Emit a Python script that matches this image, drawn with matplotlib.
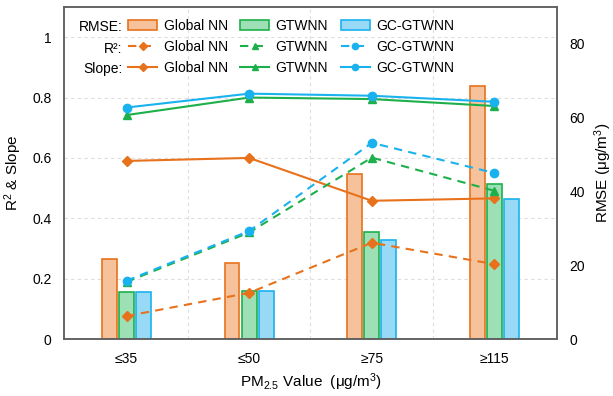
import numpy as np
import matplotlib.pyplot as plt
from matplotlib.ticker import FuncFormatter

plt.rcParams['font.family'] = ['Liberation Sans', 'DejaVu Sans']
plt.rcParams['mathtext.fontset'] = 'custom'
plt.rcParams['mathtext.rm'] = 'Liberation Sans'
plt.rcParams['mathtext.it'] = 'Liberation Sans:italic'

categories = ['≤35', '≤50', '≥75', '≥115']
models = ['Global NN', 'GTWNN', 'GC-GTWNN']

rmse_global = [21.6, 20.6, 44.8, 68.7]
rmse_gtwnn = [12.7, 13.0, 29.0, 41.9]
rmse_gc = [12.7, 13.0, 26.8, 38.0]

r2_global = [0.076, 0.153, 0.319, 0.248]
r2_gtwnn = [0.189, 0.353, 0.601, 0.491]
r2_gc = [0.193, 0.358, 0.650, 0.550]

slope_global = [0.590, 0.600, 0.458, 0.466]
slope_gtwnn = [0.742, 0.800, 0.795, 0.772]
slope_gc = [0.767, 0.813, 0.806, 0.786]

line_cols = ['#E8711C', '#1DB04A', '#1AB2EE']
fill_cols = ['#F5C29C', '#9EE0B5', '#98DAF5']
markers = ['D', '^', 'o']
msizes = [5, 5.5, 6]

x = np.arange(1, len(categories) + 1)

fig = plt.figure(figsize=(6.13, 3.96), dpi=100)
ax = fig.add_axes([0.1044, 0.1439, 0.8042, 0.8384])   # bars, RMSE on right
ax2 = ax.twinx()                                      # lines, R2 & slope on left

# bars
bar_h = []
for i, vals in enumerate([rmse_global, rmse_gtwnn, rmse_gc]):
    b = ax.bar(x + (i - 1) * 0.14, vals, width=0.122, color=fill_cols[i],
               edgecolor=line_cols[i], linewidth=1.2, zorder=2)
    bar_h.append(b)

ax.set_ylim(0, 90)
ax.set_xlim(0.49, 4.51)
ax.yaxis.tick_right()
ax.yaxis.set_label_position('right')
ax.set_yticks([0, 20, 40, 60, 80])
ax.set_ylabel('RMSE (μg/m$^3$)', fontsize=11, labelpad=5)

# grid behind bars, placed at the left-axis ticks
left_ticks = np.arange(0, 1.01, 0.2)
ax.set_yticks(left_ticks * 90 / 1.1, minor=True)
ax.set_xticks(x)
ax.set_xticklabels(categories)
ax.set_xticks(x[:-1] + 0.5, minor=True)
ax.grid(which='minor', color='#DDDDDD', linestyle=(0, (3, 3)), linewidth=0.8, zorder=0)
ax.set_axisbelow(True)
ax.set_xlabel('PM$_{2.5}$ Value  (μg/m$^3$)', fontsize=11, labelpad=4)

# lines
r2_h = []
slope_h = []
for i, (r2, sl) in enumerate(zip([r2_global, r2_gtwnn, r2_gc],
                                 [slope_global, slope_gtwnn, slope_gc])):
    h1, = ax2.plot(x, r2, color=line_cols[i], linestyle='--', dashes=(4, 3),
                   linewidth=1.5, marker=markers[i], markersize=msizes[i])
    h2, = ax2.plot(x, sl, color=line_cols[i], linestyle='-',
                   linewidth=1.5, marker=markers[i], markersize=msizes[i])
    r2_h.append(h1)
    slope_h.append(h2)

ax2.set_ylim(0, 1.1)
ax2.yaxis.tick_left()
ax2.yaxis.set_label_position('left')
ax2.set_yticks(left_ticks)
ax2.yaxis.set_major_formatter(FuncFormatter(lambda v, p: '%g' % round(v, 1)))
ax2.set_ylabel('R$^2$ & Slope', fontsize=11, labelpad=6)

for a in (ax, ax2):
    a.tick_params(which='both', length=0, labelsize=10, pad=9)
    for s in a.spines.values():
        s.set_color('#606060')
        s.set_linewidth(1.1)

handles = []
labels = []
for i in range(3):
    handles += [bar_h[i], r2_h[i], slope_h[i]]
    labels += [models[i]] * 3
leg = ax2.legend(handles, labels, ncol=3, loc='upper left', bbox_to_anchor=(0.13, 0.965),
                 frameon=False, fontsize=10, handlelength=2.1, handletextpad=0.45,
                 columnspacing=0.9, labelspacing=0.5, borderpad=0, borderaxespad=0,
                 markerscale=0.75)

for lab, yy in zip(['RMSE:', 'R²:', 'Slope:'], [0.94, 0.873, 0.813]):
    ax2.text(0.118, yy, lab, transform=ax2.transAxes, ha='right', va='center', fontsize=10)

fig.savefig('out.png', dpi=100)
